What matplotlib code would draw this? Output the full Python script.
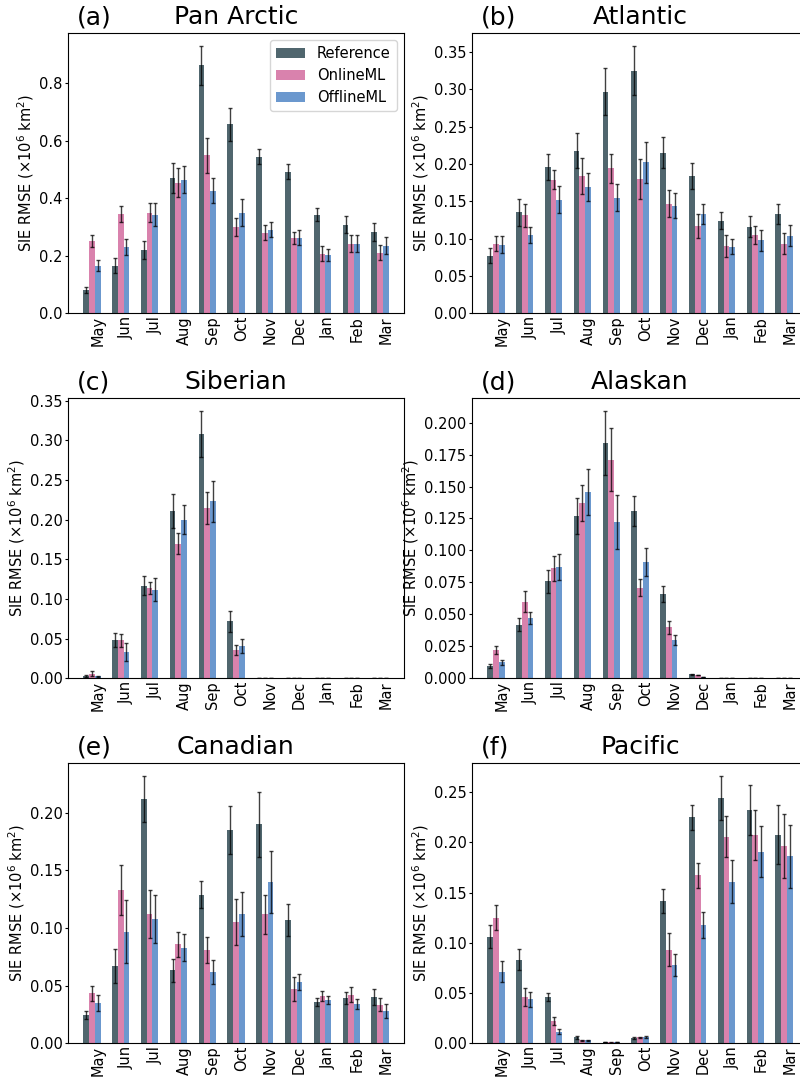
import numpy as np
import matplotlib
matplotlib.use('Agg')
import matplotlib.pyplot as plt

months = ['May', 'Jun', 'Jul', 'Aug', 'Sep', 'Oct', 'Nov', 'Dec', 'Jan', 'Feb', 'Mar']
labels = ['Reference', 'OnlineML', 'OfflineML']
colors = ['#50666e', '#d982ad', '#6b98ce']

# (a) Pan Arctic
pan_ref = [0.081, 0.165, 0.221, 0.472, 0.863, 0.657, 0.545, 0.493, 0.343, 0.308, 0.283]
pan_ref_err = [0.010, 0.026, 0.031, 0.052, 0.067, 0.057, 0.027, 0.027, 0.023, 0.029, 0.030]
pan_onl = [0.252, 0.347, 0.350, 0.455, 0.550, 0.300, 0.280, 0.263, 0.207, 0.242, 0.210]
pan_onl_err = [0.020, 0.028, 0.034, 0.050, 0.061, 0.032, 0.026, 0.021, 0.026, 0.029, 0.026]
pan_off = [0.165, 0.231, 0.343, 0.465, 0.427, 0.350, 0.291, 0.263, 0.203, 0.242, 0.235]
pan_off_err = [0.019, 0.027, 0.040, 0.047, 0.042, 0.048, 0.027, 0.027, 0.020, 0.029, 0.030]

# (b) Atlantic
atl_ref = [0.077, 0.135, 0.196, 0.218, 0.297, 0.325, 0.215, 0.184, 0.124, 0.116, 0.133]
atl_ref_err = [0.010, 0.018, 0.018, 0.023, 0.031, 0.033, 0.021, 0.017, 0.011, 0.014, 0.013]
atl_onl = [0.093, 0.131, 0.179, 0.184, 0.194, 0.180, 0.147, 0.117, 0.090, 0.105, 0.093]
atl_onl_err = [0.010, 0.015, 0.013, 0.024, 0.020, 0.027, 0.018, 0.016, 0.015, 0.012, 0.014]
atl_off = [0.092, 0.105, 0.152, 0.169, 0.155, 0.202, 0.144, 0.133, 0.089, 0.098, 0.104]
atl_off_err = [0.011, 0.011, 0.018, 0.019, 0.018, 0.028, 0.017, 0.014, 0.010, 0.014, 0.014]

# (c) Siberian
sib_ref = [0.003, 0.048, 0.117, 0.211, 0.308, 0.072, 0.0004, 0.0004, 0.0004, 0.0004, 0.0004]
sib_ref_err = [0.0015, 0.009, 0.012, 0.022, 0.029, 0.013, 0.0003, 0.0003, 0.0003, 0.0003, 0.0003]
sib_onl = [0.006, 0.048, 0.114, 0.170, 0.215, 0.036, 0.0004, 0.0004, 0.0004, 0.0004, 0.0004]
sib_onl_err = [0.003, 0.008, 0.008, 0.013, 0.020, 0.006, 0.0003, 0.0003, 0.0003, 0.0003, 0.0003]
sib_off = [0.0025, 0.033, 0.112, 0.200, 0.223, 0.041, 0.0004, 0.0004, 0.0004, 0.0004, 0.0004]
sib_off_err = [0.001, 0.011, 0.0145, 0.018, 0.026, 0.009, 0.0003, 0.0003, 0.0003, 0.0003, 0.0003]

# (d) Alaskan
ala_ref = [0.0094, 0.042, 0.076, 0.127, 0.184, 0.131, 0.066, 0.0031, 0.0003, 0.0002, 0.0003]
ala_ref_err = [0.0016, 0.005, 0.009, 0.014, 0.025, 0.0117, 0.0064, 0.0004, 0.0002, 0.0002, 0.0002]
ala_onl = [0.022, 0.060, 0.086, 0.137, 0.171, 0.071, 0.040, 0.0026, 0.0003, 0.0002, 0.0003]
ala_onl_err = [0.003, 0.008, 0.0095, 0.014, 0.0246, 0.0065, 0.005, 0.0003, 0.0002, 0.0002, 0.0002]
ala_off = [0.0127, 0.047, 0.087, 0.146, 0.122, 0.091, 0.030, 0.001, 0.0003, 0.0002, 0.0003]
ala_off_err = [0.002, 0.0047, 0.0104, 0.018, 0.021, 0.011, 0.0042, 0.0003, 0.0002, 0.0002, 0.0002]

# (e) Canadian
can_ref = [0.0246, 0.067, 0.212, 0.0634, 0.129, 0.185, 0.190, 0.107, 0.0356, 0.0394, 0.0402]
can_ref_err = [0.0035, 0.015, 0.020, 0.010, 0.012, 0.021, 0.028, 0.014, 0.0036, 0.0055, 0.0072]
can_onl = [0.0434, 0.133, 0.112, 0.086, 0.081, 0.105, 0.112, 0.047, 0.041, 0.042, 0.0333]
can_onl_err = [0.0067, 0.022, 0.021, 0.011, 0.0116, 0.020, 0.017, 0.0106, 0.0043, 0.0065, 0.0056]
can_off = [0.035, 0.097, 0.108, 0.083, 0.062, 0.112, 0.140, 0.053, 0.0376, 0.0342, 0.0281]
can_off_err = [0.0072, 0.027, 0.0206, 0.0117, 0.0106, 0.019, 0.027, 0.0068, 0.0036, 0.0045, 0.0064]

# (f) Pacific
pac_ref = [0.106, 0.083, 0.046, 0.006, 0.0013, 0.005, 0.142, 0.225, 0.244, 0.232, 0.2075]
pac_ref_err = [0.0115, 0.0105, 0.0043, 0.0013, 0.0003, 0.0008, 0.012, 0.0126, 0.022, 0.025, 0.0295]
pac_onl = [0.125, 0.046, 0.022, 0.003, 0.0008, 0.0058, 0.093, 0.167, 0.2055, 0.2075, 0.1965]
pac_onl_err = [0.0125, 0.009, 0.0043, 0.0005, 0.0003, 0.0008, 0.0164, 0.012, 0.0206, 0.0247, 0.032]
pac_off = [0.071, 0.044, 0.0116, 0.003, 0.0012, 0.006, 0.078, 0.118, 0.161, 0.1906, 0.186]
pac_off_err = [0.0105, 0.0075, 0.0027, 0.0005, 0.0003, 0.001, 0.0106, 0.0129, 0.021, 0.0254, 0.0315]

panels = [
    ('(a)', 'Pan Arctic', [pan_ref, pan_onl, pan_off], [pan_ref_err, pan_onl_err, pan_off_err]),
    ('(b)', 'Atlantic', [atl_ref, atl_onl, atl_off], [atl_ref_err, atl_onl_err, atl_off_err]),
    ('(c)', 'Siberian', [sib_ref, sib_onl, sib_off], [sib_ref_err, sib_onl_err, sib_off_err]),
    ('(d)', 'Alaskan', [ala_ref, ala_onl, ala_off], [ala_ref_err, ala_onl_err, ala_off_err]),
    ('(e)', 'Canadian', [can_ref, can_onl, can_off], [can_ref_err, can_onl_err, can_off_err]),
    ('(f)', 'Pacific', [pac_ref, pac_onl, pac_off], [pac_ref_err, pac_onl_err, pac_off_err]),
]

fig = plt.figure(figsize=(8, 10.81), dpi=100)

# axes boxes in figure fractions (left, bottom) - picked to match the layout
lefts = [0.085, 0.59]
bottoms = [0.7102, 0.3725, 0.0349]
w, h = 0.42, 0.2596

x = np.arange(len(months))
bw = 0.2

for i, (tag, name, vals, errs) in enumerate(panels):
    ax = fig.add_axes([lefts[i % 2], bottoms[i // 2], w, h])
    for k in range(3):
        ax.bar(x + (k - 1) * bw, vals[k], bw, yerr=errs[k], color=colors[k],
               label=labels[k], capsize=1.5,
               error_kw=dict(ecolor='black', elinewidth=1, capthick=1, alpha=0.75))
    ax.set_xticks(x + bw)
    ax.set_xticklabels(months, rotation=90, fontsize=10.5)
    ax.tick_params(axis='x', length=0, pad=2)
    ax.tick_params(axis='y', labelsize=10.5, length=2.5, pad=1.5)
    ax.set_ylabel(r'SIE RMSE ($\times 10^6$ km$^2$)', fontsize=10.5, labelpad=2)
    ax.set_title(name, fontsize=18)
    ax.annotate(tag, xy=(0.025, 1), xycoords='axes fraction', xytext=(0, 6),
                textcoords='offset points', fontsize=18, va='baseline')
    if i == 0:
        ax.legend(loc='upper right', fontsize=10.5)

plt.savefig('out.png', dpi=100)
